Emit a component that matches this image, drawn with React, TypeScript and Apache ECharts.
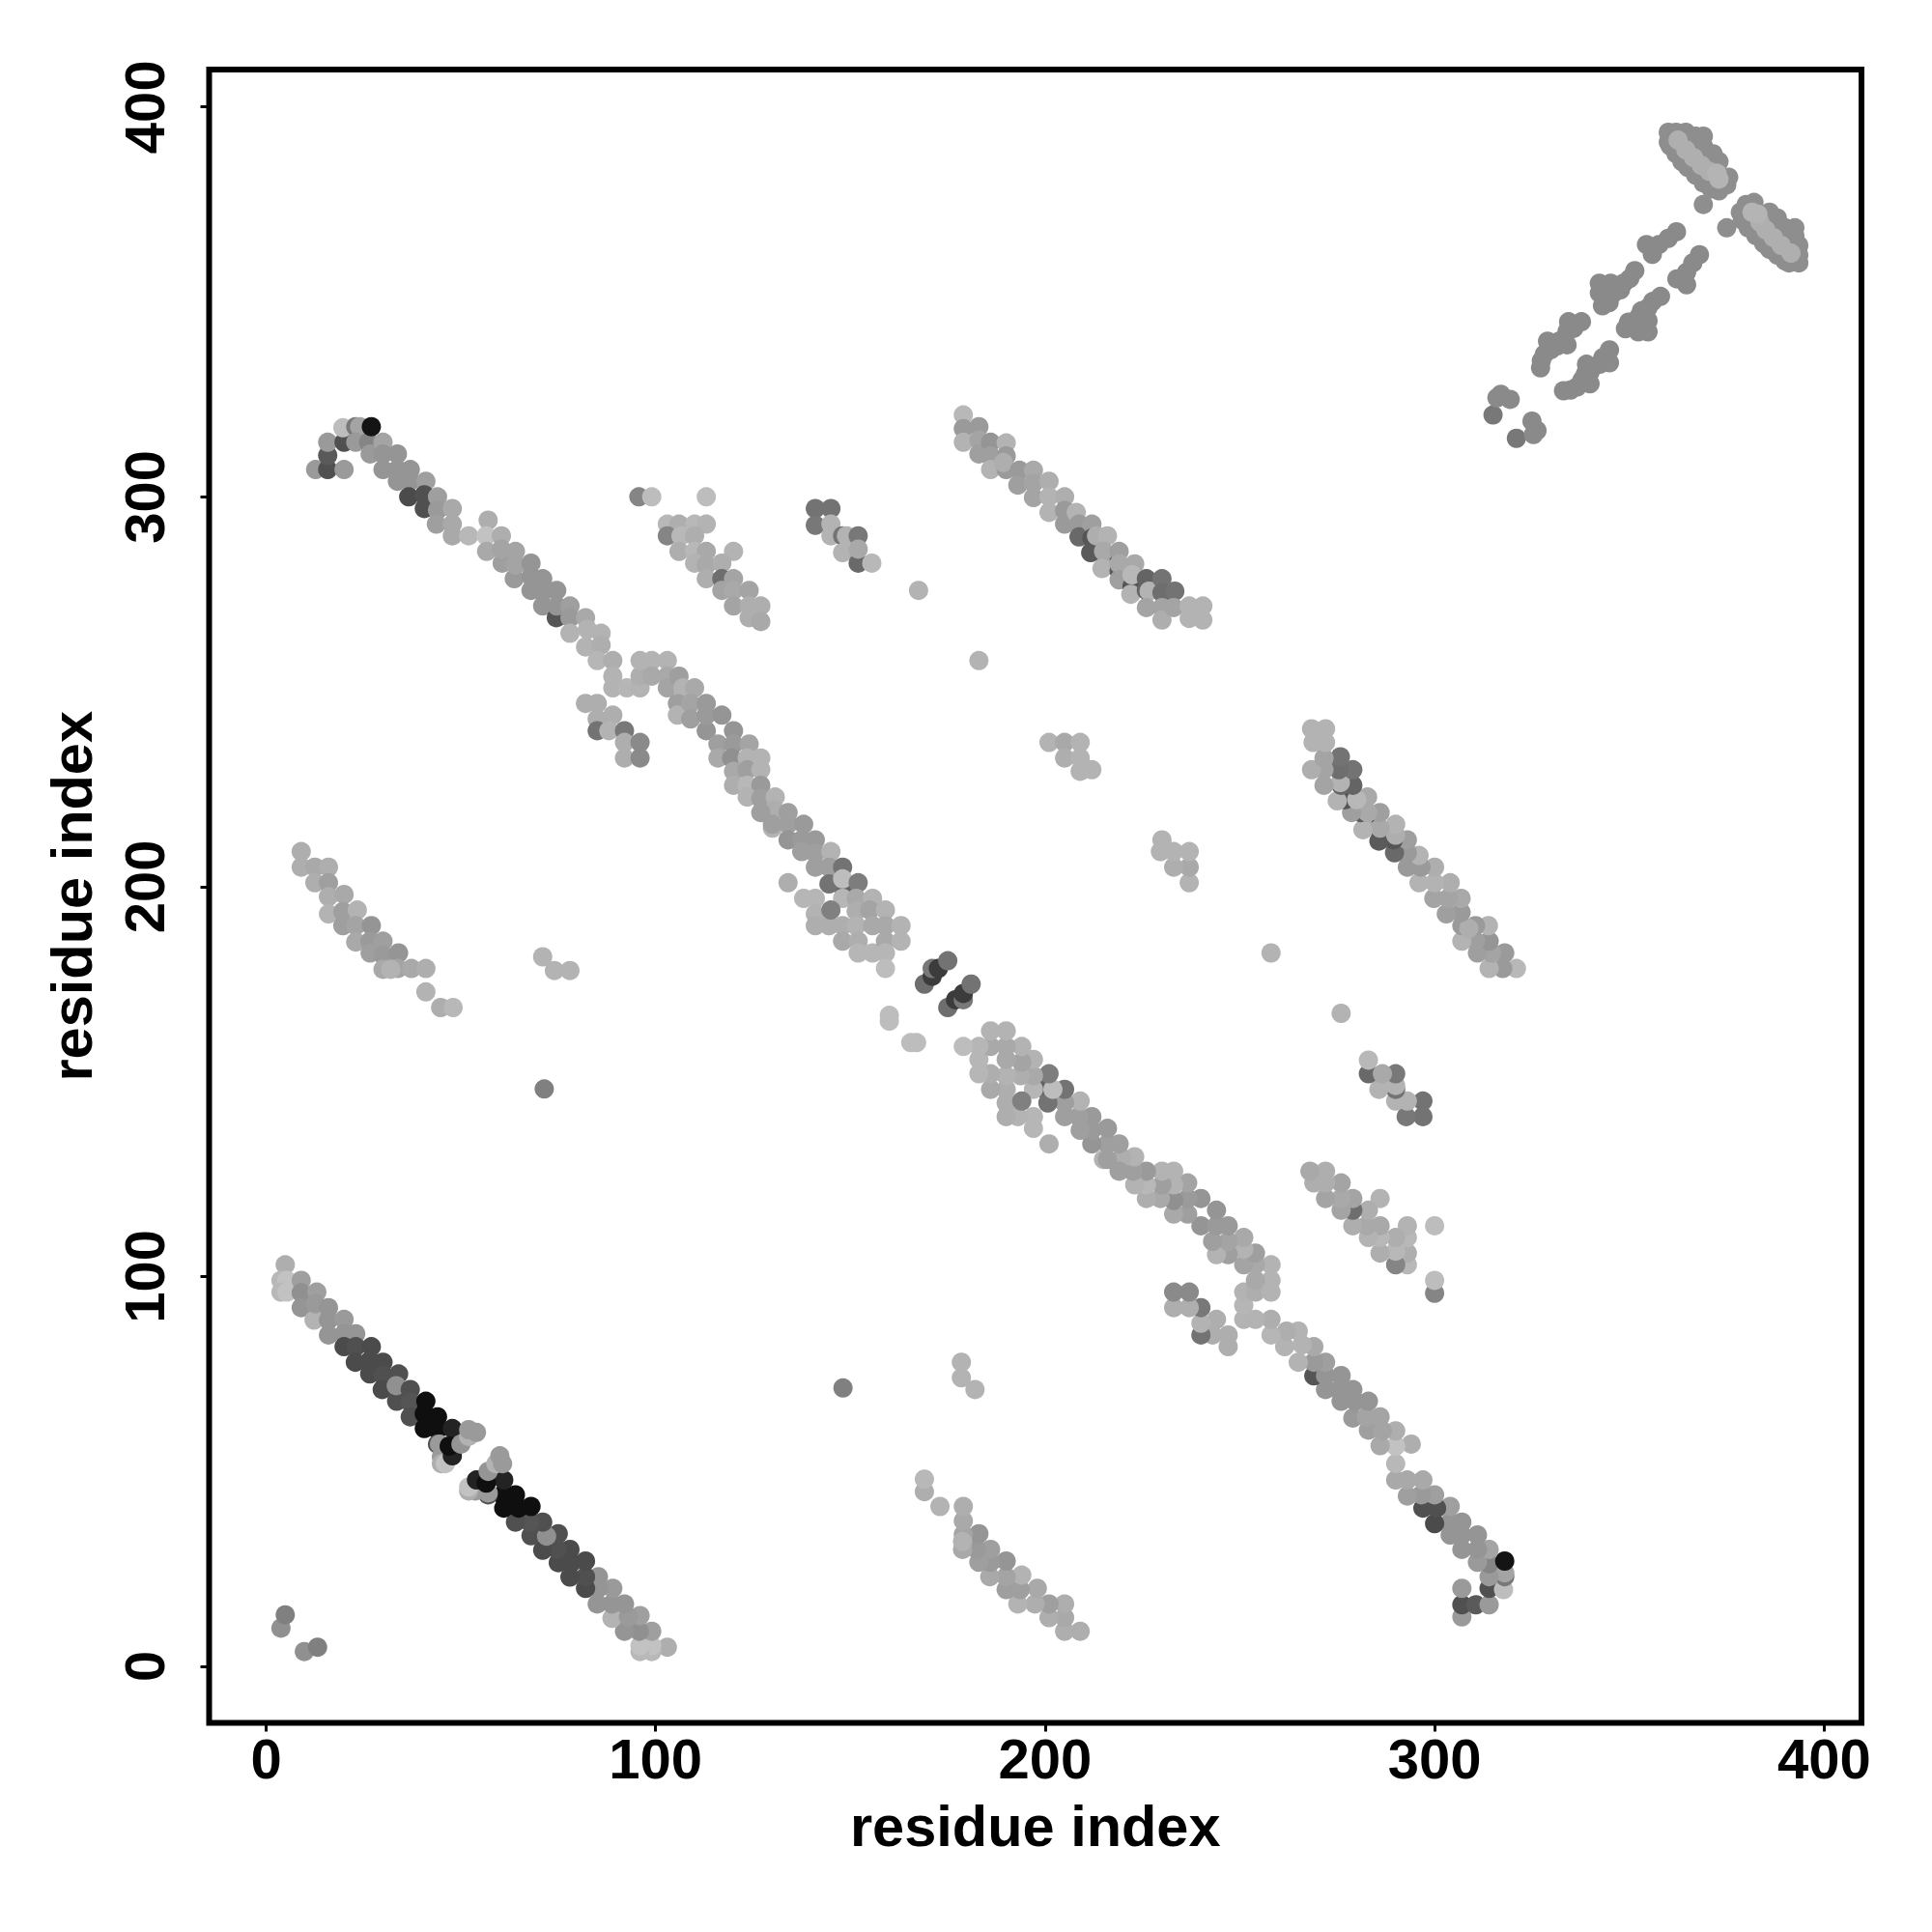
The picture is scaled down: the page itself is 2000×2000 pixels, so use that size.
import React, { useEffect, useRef } from "react";
import * as echarts from "echarts";

type P = [number, number, number];
// Each contact: residue i, residue j (i < j), grey level.
const closeHairpin: P[] = [
[4.9,103,174],[3.8,99,184],[5.3,99,194],[3.8,96,184],[5.3,96,194],[9,99,159],[9,95.8,144],[9,92,149],[12.3,88.8,179],[13,96,159],[12.7,93,154],[16,92,149],[16,88.8,149],[16,85,149],[20,89,154],[20,85.3,149],[23,85.3,149],[20,82,75],[23,82,80],[22.9,78,75],[27,82,75],[26.6,78.4,75],[26.6,75,75],[30,78,75],[30,74.7,80],[29.8,71,75],[34,75,80],[33.5,68,80],[33.4,72,144],[37,71,80],[37,67.7,85],[37,64,80],[41,68,15],[40.6,64.8,15],[40.6,61,15],[44,64,15],[44,60.7,15],[44,57,80],[44.5,57,154],[45,53.7,154],[45,52,174],[46,52,194],[47.8,61,35],[47.8,54,35],[47,56.5,15],[50,57,149],[52,59,179],[52,60.7,154],[54,60,154],
];
const terminalPairs: P[] = [[3.8,9.8,144],[4.9,13.2,128]];
const longHairpinA: P[] = [
[12.7,307,154],[15.8,307,80],[20,307,154],[15.8,310.6,90],[15.8,314,154],[20,314,80],[19.7,317.7,189],[23,318,120],[24,318,164],[23,314,154],[26.3,314,133],[26.7,311,154],[27,318,20],[30,314,164],[30,311,149],[33.7,311,149],[30,307,149],[33.7,304,149],[33.7,307,149],[37,307,149],[37,304,149],[36.6,300,75],[41,304,159],[40.6,300.5,80],[40.6,297,80],[44,300,159],[44,296.6,154],[43.7,293,159],[47.8,297,169],[47.8,293,169],[47.8,290,169],[52,290,184],[57,294,174],[56.5,290,194],[56.6,286,169],[60.4,290,174],[60.6,283,159],[60.4,286.6,164],[64,286,164],[63.7,279,154],[64,282.5,164],[68,283,149],[68,276,149],[68,279.6,149],[71,279,149],[71,272,149],[71,275.5,149],[74.5,269,85],[74.6,276,149],[74.6,272,149],[78,272,159],[78,269,154],[82,269,169],[78,265,179],[82.5,266,179],[82,261.5,179],[86,265,179],[86,262,174],[85,258,182],[89,258,174],[89,254,179],[89,251,179],[92.6,251,182],[96,251,179],[96,254,174],[96,258,179],[99,258,179],[103,258,179],[99,254,169],[103,254,169],[103,251,164],[106,254,159],[107,251,179],[110,251,169],
];
const longHairpinB: P[] = [
[105.6,247,159],[105.6,244,179],[109,247,164],[109,243,159],[113,247,154],[113,240,149],[113,244,154],[117,244,149],[116,236.6,159],[116,233,169],[120,240,149],[120,236.6,154],[119.5,233,144],[124,236.6,164],[123.5,233,179],[127,233,179],[120,229.6,169],[123.5,230,159],[127,230,179],[120,226,174],[123.5,226,184],[127,226,154],[123.5,223,179],[127,222.6,159],[130.7,223,179],[130.5,219.7,174],[127,219,159],[134,219,159],[130,215,179],[130,216,159],[134,216,159],[138,216,154],[134,212,149],[137.5,212,154],[141,212,154],[137.5,209,159],[141,208.6,159],[141,205,159],[145,209,179],[144.5,205,159],[148,200,100],[144.5,200.7,115],[148,205,115],[148,202,189],[152,201,125],[134,201,174],
[138,197,182],[141,197,182],[141,193,179],[141,190,174],[144.5,190,174],[148,197,182],[148,190,174],[148,186,169],[145,194,128],[151.5,197,169],[151.5,193.7,174],[151.5,190,179],[152,186,174],[152,183,182],[155.7,197,179],[155,194,164],[155.7,190,169],[155.7,183,182],[159,194,179],[159,190,169],[159,186,169],[159,183,182],[159,179,189],[163,190,179],[163,186,179],
];
const centreTurn: P[] = [[169,175,110],[171,177,60],[171,179,120],[172.6,179,60],[175,181,115]];
const centreSingles: P[] = [[160,167,189],[160,165.5,189]];
const bandD: P[] = [
[179,321,184],[179,317.5,154],[179,314,179],[183,318,154],[183,314.6,164],[183,311,159],[186,314,149],[186,310.5,159],[186,307,179],[190,313.8,179],[190,310.5,154],[190,307,154],[189.3,308.8,174],[193.4,306.8,154],[193,303,159],[197,306.8,169],[197,303.5,164],[197,299.8,164],[201,304,174],[201,300,179],[201,296,179],[205,300,174],[205,296.5,154],[205,293,154],[208,296,179],[208.7,293,154],[208.7,289.7,105],[212,293,159],[212,289.4,85],[211.7,285.7,90],[213.2,290,174],[216,290,179],[215.4,285,80],[215,286,169],[215,282,169],[214.6,281.6,179],[219,286,159],[219,281,90],[219,282.8,169],[219,278.7,159],[223,282.8,169],[222.3,277,85],[222.3,280,184],[222,275,179],[226,279,100],[226,276,100],[226.7,275.8,179],[226,271.6,164],[230,279,115],[230,275.4,110],[230,271.6,164],[230,268.4,174],[233.3,275.8,115],[233,271.6,164],[237,272,179],[237,268.8,179],[240.5,272,179],[240.5,268.4,179],
];
const bandE: P[] = [
[9,209,174],[9,205,174],[12.5,205,169],[16,205,174],[12.5,201,174],[16,201,159],[16,197.4,174],[20,198,169],[16,193,179],[19.7,193.6,159],[19.7,190,159],[23.4,194,179],[23,190,164],[23,185.8,169],[27,190,149],[26.7,186,154],[26.7,183,159],[30,186,159],[30,182.5,154],[30,178.8,169],[34,183,149],[33.8,179,164],[32,178.8,179],[37.3,179,169],[41,179,174],[41,173,179],[44.8,169,174],[48,169,184],
];
const clusterF: P[] = [
[95.7,300,133],[99,300,189],[113,300,189],[103,293,184],[106,293,174],[110,293,184],[113,293,179],[103,290,133],[106.5,290,184],[110,290,174],[106,286,174],[110,286,184],[113,286,169],[120,286,179],[110,283,179],[113,282.5,169],[117,283,174],[113,279,174],[117,279,110],[120,279,164],[117,276,164],[120,276,169],[124,276,164],[120,272,164],[124,272,174],[124,269,174],[127,272,174],[127,268,169],
];
const clusterLow: P[] = [[82,247,174],[85,247,174],[85,243,174],[89,244,174],[85,240,115],[88,240,179],[92,240,120],[92,237,174],[92,233,174],[96,237,138],[96,233,138]];
const clusterG: P[] = [[141,297,115],[145,297,115],[141,292.7,120],[145,293,179],[145,290,179],[148,290,115],[149,290,179],[148,285.7,179],[152,283,105],[152,290,120],[152,286.6,169],[155.5,283,184]];
const clusterI: P[] = [[201,237,179],[205,237,169],[209,237,179],[205,233,174],[209,233,179],[209,229.6,179],[212,230,179]];
const isolated: P[] = [[71.4,148.1,128],[167.5,276,179],[183,258,179],[71,182,179],[74,178.5,179],[78,178.5,179]];
const parallelStrand: P[] = [
[315,321,120],[316,325.4,138],[317,326.3,138],[319.4,325,138],[327.2,333.1,138],[327.4,334.9,138],[328.2,336.6,138],[329,339.9,138],[329.9,337.8,138],[331.5,338.7,138],[332,339.9,138],[334,339,138],[334,342.4,138],[334.4,344.9,138],[335.7,343.2,138],[337.7,344.9,138],[343.1,349,138],[344.8,349.8,138],[343.9,351,138],[342.3,352.3,138],[342.3,354.8,138],[345.2,354.8,138],[346,352.3,138],[347.7,353.1,138],[348.5,354.8,138],[350.1,356,138],[351.4,358,138],[355.9,362.2,138],[354.4,364.7,138],[355.9,363.9,138],[357.6,364.7,138],[360,366.3,138],[362.1,368,138],[369,375,142],
];
const endHairpin: P[] = [
[360,393.5,142],[362,393.5,142],[364.5,393.5,142],[367,392.5,142],[369,392.5,142],[360,391,142],[369,390,142],[371.5,388,142],[373,386,142],[360.5,390,142],[362,388,142],[363.5,386,142],[365,384.5,142],[367,382.5,142],[369,380.5,142],[371,379,142],[373,378.5,142],[375,380,142],[375.5,382,142],[365,391.5,142],[367,390,142],[369,388,142],
[362.5,391.5,175],[364.5,389,175],[366.5,387,175],[368.5,385,175],[370.5,383.5,175],[372.5,383,180],[373,381.5,180],
];
const axisTicks = [0, 100, 200, 300, 400];
const axisTitle = "residue index";

const upperContacts: P[] = [
  ...parallelStrand, ...endHairpin, ...bandE, ...bandD, ...clusterF, ...clusterLow, ...clusterG, ...clusterI,
  ...isolated, ...terminalPairs, ...longHairpinA, ...longHairpinB, ...centreSingles, ...centreTurn, ...closeHairpin,
];
// The map is symmetric: every contact (i, j) is also drawn as (j, i).
const contacts: P[] = [...upperContacts, ...upperContacts.map(([i, j, g]): P => [j, i, g])];

const FONT = "Liberation Sans";

function axis(extra: object) {
  return {
    type: "value",
    min: -14.64,
    max: 409.6,
    name: axisTitle,
    nameLocation: "middle",
    nameTextStyle: { fontFamily: FONT, fontWeight: "bold", fontSize: 59.5, color: "#000" },
    splitLine: { show: false },
    axisLine: { show: false, onZero: false },
    axisTick: { show: true, customValues: axisTicks, length: 9, lineStyle: { color: "#000", width: 3 } },
    ...extra,
  };
}
const labelStyle = { fontFamily: FONT, fontWeight: "bold", fontSize: 58, color: "#000", customValues: axisTicks, showMinLabel: true, showMaxLabel: true };

export default function App() {
  const ref = useRef<HTMLDivElement>(null);
  useEffect(() => {
    const chart = echarts.init(ref.current!, null, { renderer: "svg" });
    chart.setOption({
      animation: false,
      backgroundColor: "#fff",
      grid: { left: 216.5, right: 73, top: 72, bottom: 216.5, show: true, borderColor: "#000", borderWidth: 6, backgroundColor: "transparent" },
      xAxis: axis({ nameGap: 77, axisLabel: { ...labelStyle, margin: 8 } }),
      yAxis: axis({ min: -14.5, nameGap: 112, axisLabel: { ...labelStyle, rotate: 90, margin: 38 } }),
      series: [{
        type: "scatter",
        data: contacts,
        symbol: "circle",
        symbolSize: 20,
        clip: false,
        itemStyle: {
          opacity: 1,
          color: (p: any) => { const g = p.value[2]; return `rgb(${g},${g},${g})`; },
        },
      }],
    });
    return () => chart.dispose();
  }, []);
  return <div ref={ref} style={{ position: "absolute", left: 0, top: 0, width: 2000, height: 2000 }} />;
}
